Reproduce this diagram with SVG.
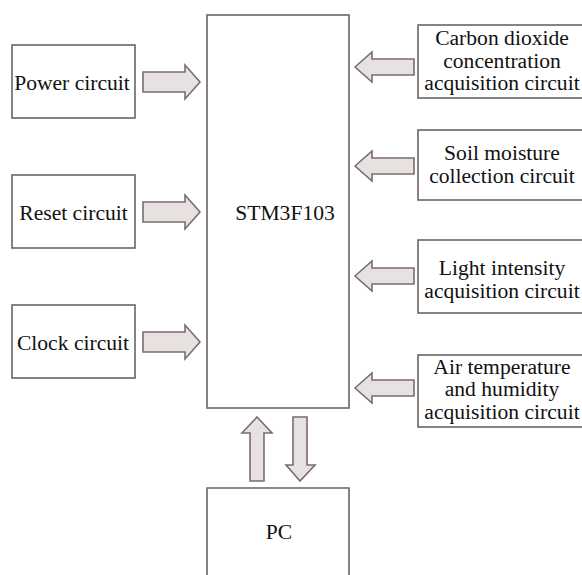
<svg xmlns="http://www.w3.org/2000/svg" xmlns:xlink="http://www.w3.org/1999/xlink" width="582" height="575" viewBox="0 0 582 575">
<style>
.box{fill:#fff;stroke:#6b6464;stroke-width:1.6}
.arr{fill:#e8e1e1;stroke:#7a6c6c;stroke-width:1.6;stroke-linejoin:miter}
text{font-family:'Liberation Serif','Times New Roman',serif;font-size:21.6px;fill:#111;text-anchor:middle}
</style>
<defs>
<path id="ra" d="M-57,-10 H-15 V-17 L0,0 L-15,17 V10 H-57 Z"/>
<path id="la" d="M0,0 L17,-15 V-8 H59 V8 H17 V15 Z"/>
</defs>
<rect width="582" height="575" fill="#fff"/>
<g id="stm"><rect class="box" x="207" y="15" width="142" height="393"/><text x="285" y="220">STM3F103</text></g>
<g id="power"><rect class="box" x="12" y="45" width="123" height="73"/><text x="72" y="90">Power circuit</text></g>
<g id="reset"><rect class="box" x="12" y="175" width="123" height="73"/><text x="73.5" y="220">Reset circuit</text></g>
<g id="clock"><rect class="box" x="12" y="305" width="123" height="73"/><text x="73" y="350">Clock circuit</text></g>
<g id="co2"><rect class="box" x="418" y="25" width="180" height="73"/><text x="502" y="45">Carbon dioxide</text><text x="502" y="67.5">concentration</text><text x="502" y="90">acquisition circuit</text></g>
<g id="soil"><rect class="box" x="418" y="130" width="180" height="70"/><text x="502" y="160">Soil moisture</text><text x="502" y="183">collection circuit</text></g>
<g id="light"><rect class="box" x="418" y="240" width="180" height="73"/><text x="502" y="275">Light intensity</text><text x="502" y="297.5">acquisition circuit</text></g>
<g id="air"><rect class="box" x="418" y="355" width="180" height="72"/><text x="502" y="373.5">Air temperature</text><text x="502" y="396">and humidity</text><text x="502" y="418.5">acquisition circuit</text></g>
<g id="pc"><path class="box" d="M207,580 V488 H349 V580"/><text x="279" y="539">PC</text></g>
<g id="connectors">
<use xlink:href="#ra" class="arr" x="200" y="82"/>
<use xlink:href="#ra" class="arr" x="200" y="212"/>
<use xlink:href="#ra" class="arr" x="200" y="342"/>
<use xlink:href="#la" class="arr" x="355" y="67"/>
<use xlink:href="#la" class="arr" x="355" y="166"/>
<use xlink:href="#la" class="arr" x="355" y="276"/>
<use xlink:href="#la" class="arr" x="355" y="388"/>
<path class="arr" d="M257,417 L272,433 H264 V481 H250 V433 H242 Z"/>
<path class="arr" d="M300,481 L286,465 H293 V417 H307 V465 H315 Z"/>
</g>
</svg>
